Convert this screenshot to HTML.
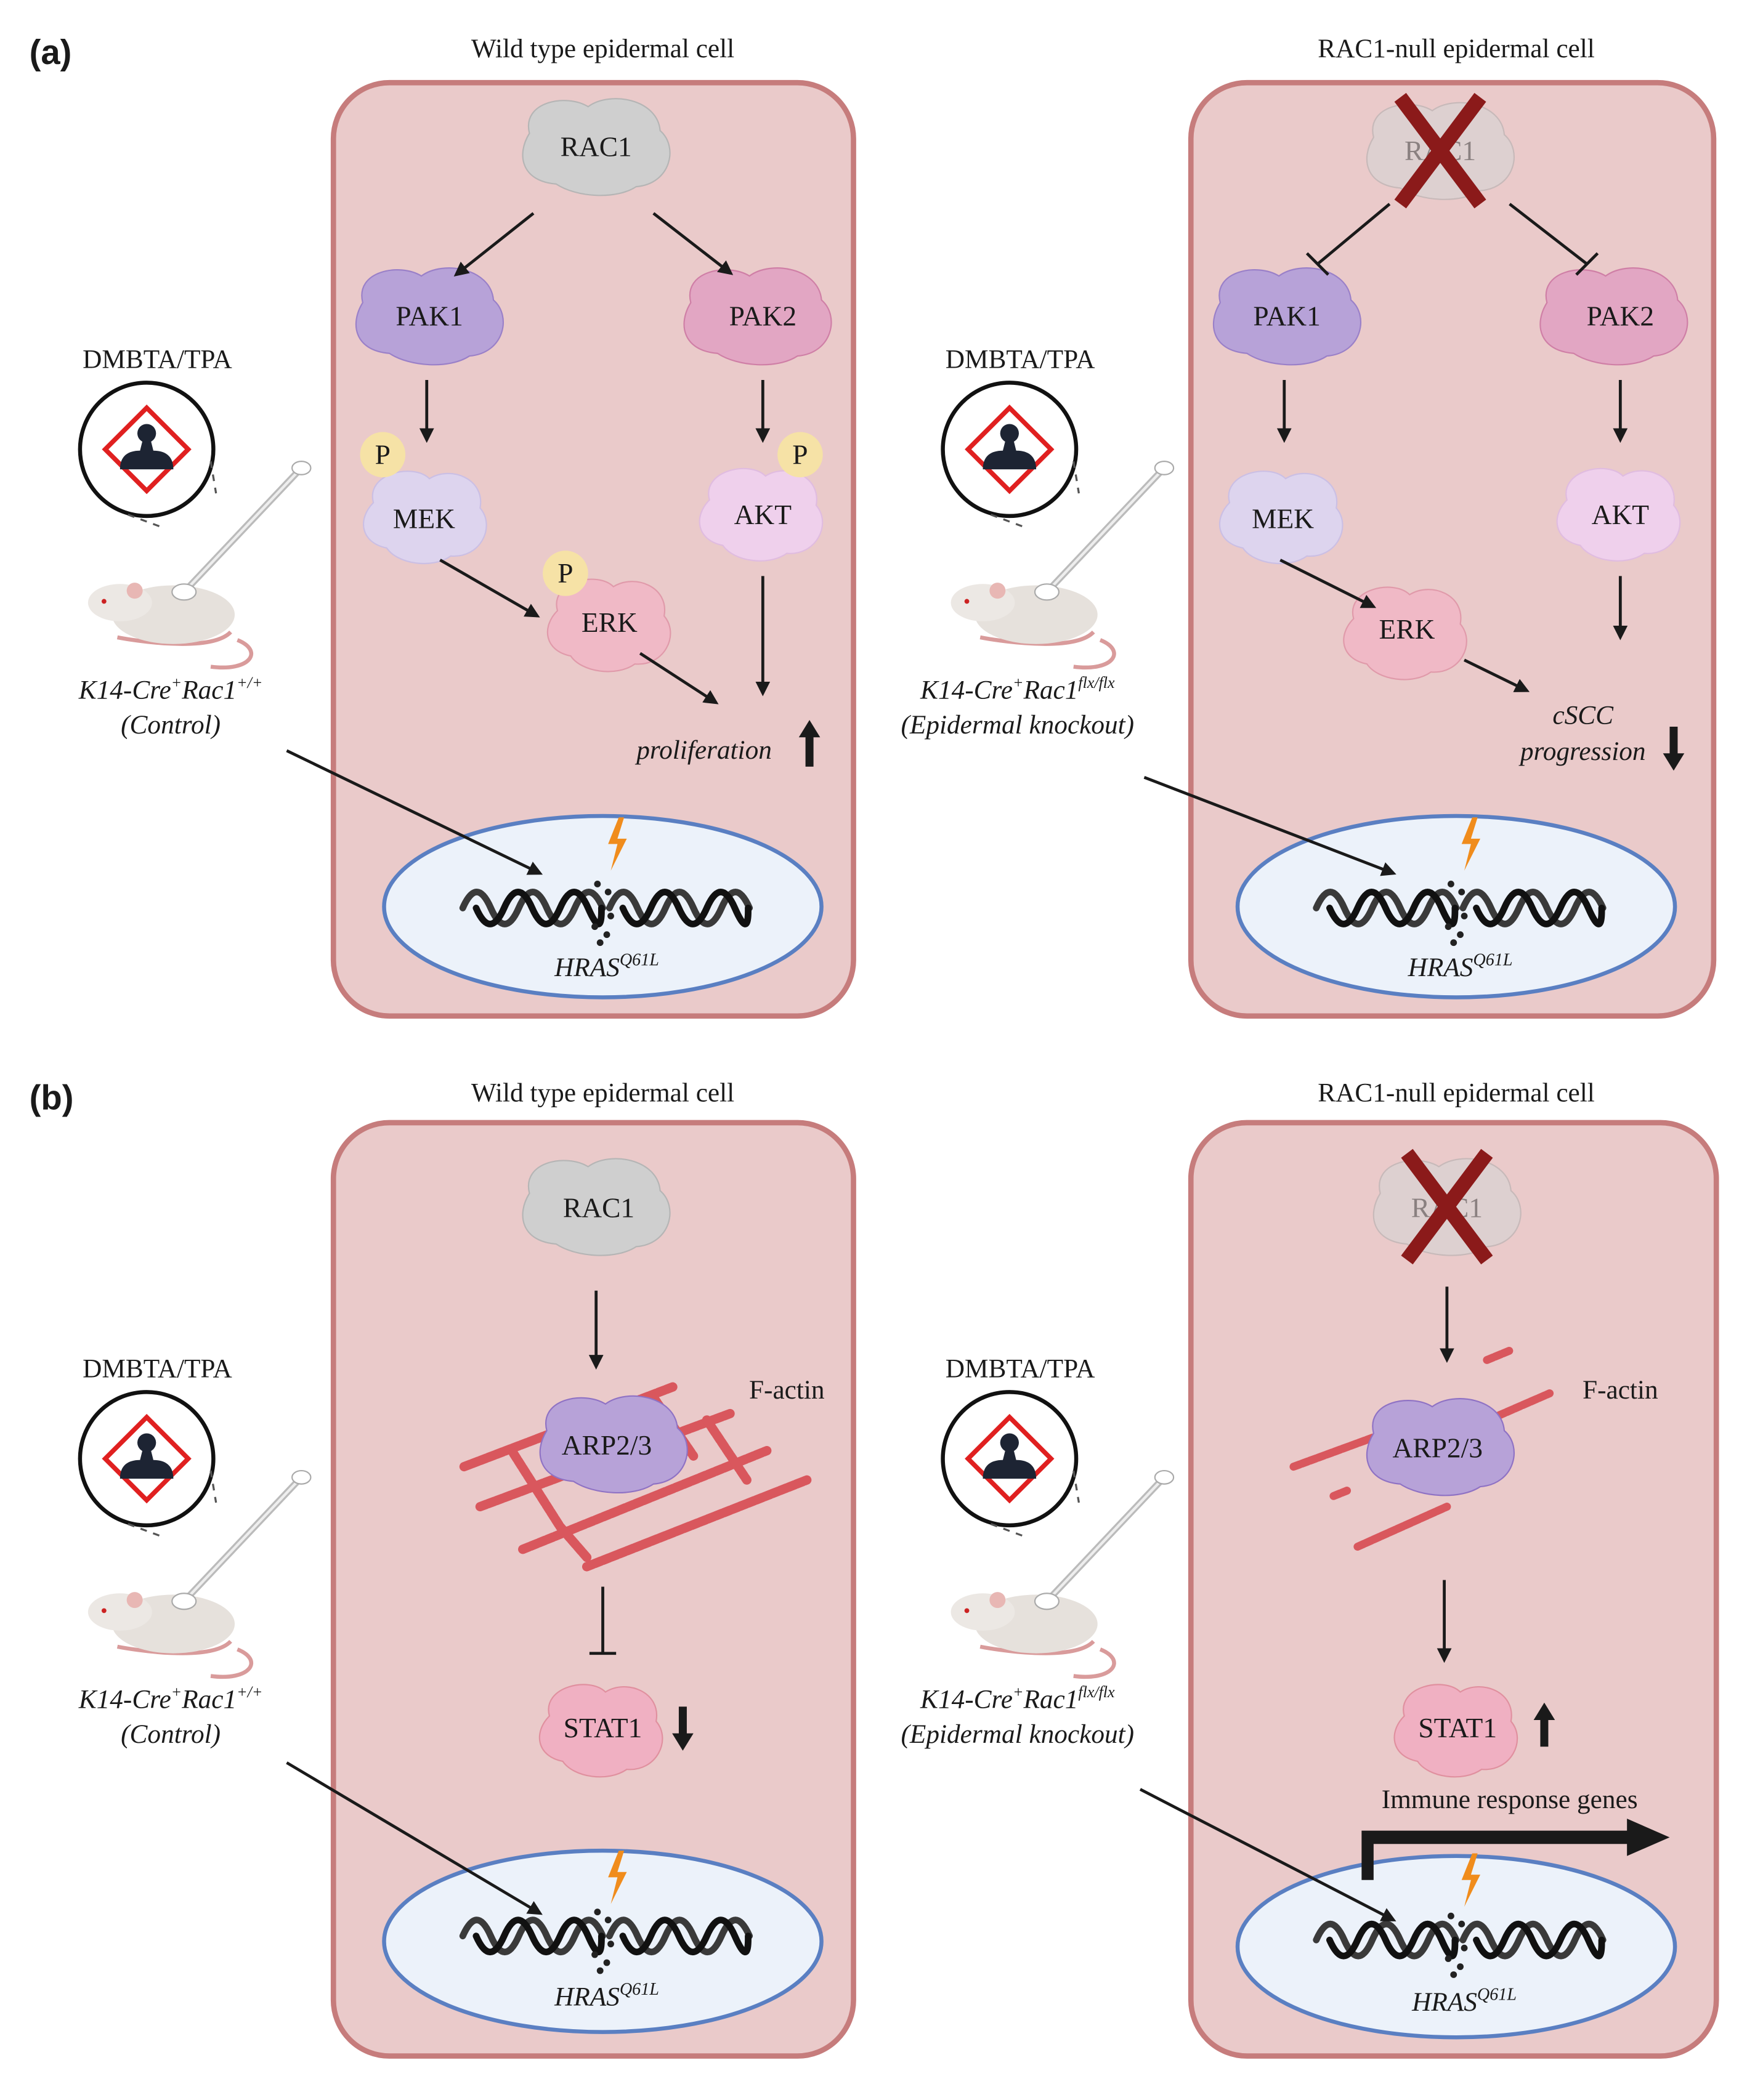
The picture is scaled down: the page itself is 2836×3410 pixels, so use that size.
<!DOCTYPE html>
<html><head><meta charset="utf-8">
<style>
html,body{margin:0;padding:0;background:#fff;}
svg{display:block;}
text{font-family:"Liberation Serif",serif;fill:#1a1a1a;}
.t{font-size:20px;text-anchor:middle;}
.p{font-size:21px;text-anchor:middle;}
.i{font-style:italic;}
</style></head><body>
<svg width="2836" height="3410" viewBox="0 0 1310 1575" preserveAspectRatio="none" xmlns="http://www.w3.org/2000/svg">
<defs>
<marker id="ah" viewBox="0 0 10 10" refX="8" refY="5" markerWidth="5" markerHeight="5" orient="auto"><path d="M0,0 L10,5 L0,10 Z" fill="#1a1a1a"/></marker>
<path id="blob" d="M-50,-10 C-56,-34 -22,-40 -6,-30 C10,-42 46,-36 48,-12 C62,0 56,28 30,30 C15,40 -15,38 -30,28 C-56,26 -60,6 -50,-10 Z"/>
<path id="blob2" d="M-40,-8 C-46,-30 -10,-38 2,-26 C18,-36 44,-26 40,-4 C52,10 40,34 18,32 C4,42 -22,38 -30,26 C-50,22 -52,4 -40,-8 Z"/>
<g id="dna" fill="none" stroke-width="5" stroke-linecap="round">
<path stroke="#3a3a3a" d="M-105,0 q10.5,-24 21,0 t21,0 t21,0 t21,0 t21,0 M5,0 q10.5,-24 21,0 t21,0 t21,0 t21,0 t21,0"/>
<path stroke="#111" d="M-95,0 q10.5,24 21,0 t21,0 t21,0 t21,0 t10,0 M15,0 q10.5,24 21,0 t21,0 t21,0 t21,0 t10,0"/>
<g fill="#222" stroke="none"><circle cx="-4" cy="-18" r="2.5"/><circle cx="4" cy="-12" r="2.5"/><circle cx="-6" cy="14" r="2.5"/><circle cx="3" cy="20" r="2.5"/><circle cx="-2" cy="26" r="2.5"/><circle cx="6" cy="6" r="2.5"/></g>
</g>
<path id="bolt" d="M2,-22 L-6,-2 L1,-2 L-4,18 L8,-6 L1,-6 L6,-22 Z" fill="#f08c1c"/>
<g id="kit">
<circle cx="-8" cy="69" r="50" fill="#fff" stroke="#111" stroke-width="3"/>
<rect x="-30" y="47" width="44" height="44" transform="rotate(45 -8 69)" fill="#fff" stroke="#e02020" stroke-width="3.5"/>
<circle cx="-8" cy="57" r="7" fill="#1d2433"/>
<path d="M-11,62 L-5,62 L-3,70 C6,70 12,74 12,84 L-28,84 C-28,74 -22,70 -13,70 Z" fill="#1d2433"/>
<path d="M40,78 L44,102 M-22,118 L5,128" stroke="#555" stroke-width="1.5" stroke-dasharray="5,5"/>
<path d="M-30,210 C-20,212 40,222 55,206" fill="none" stroke="#d99b9b" stroke-width="3"/>
<path d="M60,212 C80,220 70,236 40,232" fill="none" stroke="#d99b9b" stroke-width="3"/>
<ellipse cx="12" cy="193" rx="46" ry="22" fill="#e6e1dc"/>
<ellipse cx="-28" cy="184" rx="24" ry="14" fill="#ece8e4"/>
<circle cx="-17" cy="175" r="6" fill="#e8b7b4"/>
<circle cx="-40" cy="183" r="1.8" fill="#c22"/>
<path d="M20,176 L107,84" stroke="#bbb" stroke-width="5"/>
<path d="M20,176 L107,84" stroke="#eee" stroke-width="2"/>
<ellipse cx="20" cy="176" rx="9" ry="6" fill="#fff" stroke="#aaa"/>
<ellipse cx="108" cy="83" rx="7" ry="5" fill="#fff" stroke="#aaa"/>
</g>
<g id="xmark" stroke="#8b1a1a" stroke-width="11"><path d="M-30,-40 L30,40 M30,-40 L-30,40"/></g>
</defs>

<text x="22" y="48" style="font-size:26px;font-weight:bold;font-family:'Liberation Sans',sans-serif">(a)</text>
<text x="22" y="832" style="font-size:26px;font-weight:bold;font-family:'Liberation Sans',sans-serif">(b)</text>
<text class="t" x="452" y="43">Wild type epidermal cell</text>
<text class="t" x="1092" y="43">RAC1-null epidermal cell</text>
<text class="t" x="452" y="826">Wild type epidermal cell</text>
<text class="t" x="1092" y="826">RAC1-null epidermal cell</text>

<g fill="#eacaca" stroke="#c67c7c" stroke-width="4">
<rect x="250" y="62" width="390" height="700" rx="42"/>
<rect x="893" y="62" width="392" height="700" rx="42"/>
<rect x="250" y="842" width="390" height="700" rx="42"/>
<rect x="893" y="842" width="394" height="700" rx="42"/>
</g>
<g fill="#ecf2fa" stroke="#5a7fc2" stroke-width="3">
<ellipse cx="452" cy="680" rx="164" ry="68"/>
<ellipse cx="1092" cy="680" rx="164" ry="68"/>
<ellipse cx="452" cy="1456" rx="164" ry="68"/>
<ellipse cx="1092" cy="1460" rx="164" ry="68"/>
</g>
<use href="#dna" x="452" y="681"/><use href="#dna" x="1092" y="681"/>
<use href="#dna" x="452" y="1452"/><use href="#dna" x="1092" y="1455"/>
<use href="#bolt" x="462" y="635"/><use href="#bolt" x="1102" y="635"/>
<use href="#bolt" x="462" y="1410"/><use href="#bolt" x="1102" y="1412"/>
<text class="t i" x="455" y="732">HRAS<tspan dy="-8" style="font-size:13px">Q61L</tspan></text>
<text class="t i" x="1095" y="732">HRAS<tspan dy="-8" style="font-size:13px">Q61L</tspan></text>
<text class="t i" x="455" y="1504">HRAS<tspan dy="-8" style="font-size:13px">Q61L</tspan></text>
<text class="t i" x="1098" y="1508">HRAS<tspan dy="-8" style="font-size:13px">Q61L</tspan></text>

<use href="#kit" x="118" y="268"/><use href="#kit" x="765" y="268"/>
<use href="#kit" x="118" y="1025"/><use href="#kit" x="765" y="1025"/>
<text class="t" x="118" y="276">DMBTA/TPA</text>
<text class="t" x="765" y="276">DMBTA/TPA</text>
<text class="t" x="118" y="1033">DMBTA/TPA</text>
<text class="t" x="765" y="1033">DMBTA/TPA</text>
<text class="t i" x="128" y="524">K14-Cre<tspan dy="-8" style="font-size:12px">+</tspan><tspan dy="8">Rac1</tspan><tspan dy="-8" style="font-size:12px">+/+</tspan></text>
<text class="t i" x="128" y="550">(Control)</text>
<text class="t i" x="763" y="524">K14-Cre<tspan dy="-8" style="font-size:12px">+</tspan><tspan dy="8">Rac1</tspan><tspan dy="-8" style="font-size:12px">flx/flx</tspan></text>
<text class="t i" x="763" y="550">(Epidermal knockout)</text>
<text class="t i" x="128" y="1281">K14-Cre<tspan dy="-8" style="font-size:12px">+</tspan><tspan dy="8">Rac1</tspan><tspan dy="-8" style="font-size:12px">+/+</tspan></text>
<text class="t i" x="128" y="1307">(Control)</text>
<text class="t i" x="763" y="1281">K14-Cre<tspan dy="-8" style="font-size:12px">+</tspan><tspan dy="8">Rac1</tspan><tspan dy="-8" style="font-size:12px">flx/flx</tspan></text>
<text class="t i" x="763" y="1307">(Epidermal knockout)</text>

<g fill="#1a1a1a">
<path d="M604,575 L604,553 L599,553 L607,540 L615,553 L610,553 L610,575 Z"/>
<path d="M1252,545 L1252,565 L1247,565 L1255,578 L1263,565 L1258,565 L1258,545 Z"/>
<path d="M509,1280 L509,1300 L504,1300 L512,1313 L520,1300 L515,1300 L515,1280 Z"/>
<path d="M1155,1310 L1155,1290 L1150,1290 L1158,1277 L1166,1290 L1161,1290 L1161,1310 Z"/>
<path d="M1021,1410 L1021,1373 L1220,1373 L1220,1364 L1252,1378 L1220,1392 L1220,1383 L1030,1383 L1030,1410 Z"/>
</g>

<use href="#blob" x="447" y="110" fill="#cfcfcf" stroke="#b5b5b5"/>
<use href="#blob" x="322" y="237" fill="#b7a2d8" stroke="#9a80c8"/>
<use href="#blob" x="568" y="237" fill="#e2a6c3" stroke="#cf7fa6"/>
<use href="#blob2" x="320" y="385" fill="#ddd4ee" stroke="#cbbfe4"/>
<use href="#blob2" x="572" y="383" fill="#efd0ec" stroke="#e0bce0"/>
<use href="#blob2" x="458" y="466" fill="#f0b9c6" stroke="#e09aaa"/>
<g fill="#f6e2a6"><circle cx="287" cy="341" r="17"/><circle cx="600" cy="341" r="17"/><circle cx="424" cy="430" r="17"/></g>
<text class="p" x="447" y="117">RAC1</text>
<text class="p" x="322" y="244">PAK1</text>
<text class="p" x="572" y="244">PAK2</text>
<text class="p" x="287" y="348">P</text><text class="p" x="600" y="348">P</text><text class="p" x="424" y="437">P</text>
<text class="p" x="318" y="396">MEK</text>
<text class="p" x="572" y="393">AKT</text>
<text class="p" x="457" y="474">ERK</text>
<text class="t i" x="528" y="569">proliferation</text>

<use href="#blob" x="1080" y="113" fill="#ddd0d0" stroke="#c7b9b9"/>
<text class="p" x="1080" y="120" style="fill:#8a8080">RAC1</text>
<use href="#xmark" x="1080" y="113"/>
<use href="#blob" x="965" y="237" fill="#b7a2d8" stroke="#9a80c8"/>
<use href="#blob" x="1210" y="237" fill="#e2a6c3" stroke="#cf7fa6"/>
<use href="#blob2" x="962" y="385" fill="#ddd4ee" stroke="#cbbfe4"/>
<use href="#blob2" x="1215" y="383" fill="#efd0ec" stroke="#e0bce0"/>
<use href="#blob2" x="1055" y="472" fill="#f0b9c6" stroke="#e09aaa"/>
<text class="p" x="965" y="244">PAK1</text>
<text class="p" x="1215" y="244">PAK2</text>
<text class="p" x="962" y="396">MEK</text>
<text class="p" x="1215" y="393">AKT</text>
<text class="p" x="1055" y="479">ERK</text>
<text class="t i" x="1187" y="543">cSCC</text>
<text class="t i" x="1187" y="570">progression</text>

<use href="#blob" x="447" y="905" fill="#cfcfcf" stroke="#b5b5b5"/>
<text class="p" x="449" y="913">RAC1</text>
<g stroke="#d9575d" stroke-width="7" stroke-linecap="round" stroke-dasharray="5,1.5" fill="none">
<path d="M348,1100 L505,1040"/><path d="M360,1130 L548,1060"/><path d="M392,1162 L575,1088"/><path d="M440,1175 L605,1110"/>
<path d="M385,1090 L420,1145 L440,1168"/><path d="M490,1048 L520,1092"/><path d="M530,1065 L560,1110"/>
</g>
<use href="#blob" x="460" y="1083" fill="#b7a2d8" stroke="#8f72c4"/>
<text class="p" x="455" y="1091">ARP2/3</text>
<text class="t" x="590" y="1049">F-actin</text>
<use href="#blob2" x="452" y="1295" fill="#f0b0c2" stroke="#e0909f"/>
<text class="p" x="452" y="1303">STAT1</text>

<use href="#blob" x="1085" y="905" fill="#ddd0d0" stroke="#c7b9b9"/>
<text class="p" x="1085" y="913" style="fill:#8a8080">RAC1</text>
<use href="#xmark" x="1085" y="905"/>
<g stroke="#d9575d" stroke-width="6" stroke-linecap="round" stroke-dasharray="5,1.5" fill="none">
<path d="M970,1100 L1030,1078"/><path d="M1100,1072 L1162,1045"/><path d="M1018,1160 L1085,1130"/><path d="M1000,1122 L1010,1118"/><path d="M1115,1020 L1132,1013"/>
</g>
<use href="#blob" x="1080" y="1085" fill="#b7a2d8" stroke="#8f72c4"/>
<text class="p" x="1078" y="1093">ARP2/3</text>
<text class="t" x="1215" y="1049">F-actin</text>
<use href="#blob2" x="1093" y="1295" fill="#f0b0c2" stroke="#e0909f"/>
<text class="p" x="1093" y="1303">STAT1</text>
<text class="t" x="1132" y="1356">Immune response genes</text>

<g stroke="#1a1a1a" stroke-width="2.2" fill="none" marker-end="url(#ah)">
<path d="M215,563 L405,655"/><path d="M858,583 L1045,655"/>
<path d="M215,1322 L405,1435"/><path d="M855,1342 L1045,1440"/>
<path d="M400,160 L342,206"/><path d="M490,160 L548,205"/>
<path d="M320,285 L320,330"/><path d="M572,285 L572,330"/>
<path d="M330,420 L403,462"/><path d="M480,490 L537,527"/>
<path d="M572,432 L572,520"/>
<path d="M963,285 L963,330"/><path d="M1215,285 L1215,330"/>
<path d="M960,420 L1030,455"/><path d="M1098,495 L1145,518"/>
<path d="M1215,432 L1215,478"/>
<path d="M447,968 L447,1025"/><path d="M1085,965 L1085,1020"/>
<path d="M1083,1185 L1083,1245"/>
</g>
<g stroke="#1a1a1a" stroke-width="2.2" fill="none">
<path d="M1042,153 L988,198 M980,190 L996,206"/>
<path d="M1132,153 L1190,198 M1182,206 L1198,190"/>
<path d="M452,1190 L452,1240 M442,1240 L462,1240"/>
</g>
</svg>
</body></html>
